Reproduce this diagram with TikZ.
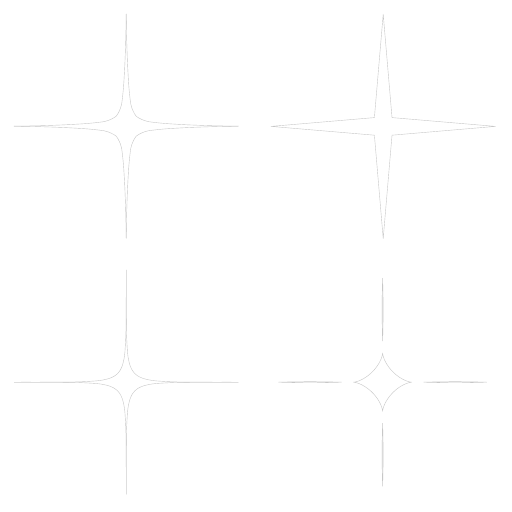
\documentclass[tikz,border=0pt]{standalone}
\begin{document}
\begin{tikzpicture}[x=0.5pt,y=-0.5pt]
\tikzset{
  starline/.style={line width=0.2pt, draw=black!22, line join=round},
}
\useasboundingbox (0,0) rectangle (512,512);
\fill[white] (0,0) rectangle (512,512);

% top-left: pinched star (hyperbola-like arms)
\foreach \sx/\sy in {1/1,1/-1,-1/1,-1/-1}{
  \begin{scope}[shift={(126.2,126.2)}, xscale=\sx, yscale=\sy]
    \draw[starline] plot[smooth, tension=0.45] coordinates {
      (112.2,0) (89,0.4) (63,1.3) (39,2.7) (22,4.6) (15,7) (10,10)
      (7,15) (4.6,22) (2.7,39) (1.3,63) (0.4,89) (0,112.2)};
  \end{scope}
}

% top-right: straight four-pointed star
\begin{scope}[shift={(383.2,126.4)}]
  \draw[starline] (0,-112.2) -- (8.8,-8.8) -- (112.2,0) -- (8.8,8.8)
    -- (0,112.2) -- (-8.8,8.8) -- (-112.2,0) -- (-8.8,-8.8) -- cycle;
\end{scope}

% bottom-left: superellipse star
\foreach \sx/\sy in {1/1,1/-1,-1/1,-1/-1}{
  \begin{scope}[shift={(126.2,382.2)}, xscale=\sx, yscale=\sy]
    \draw[starline] plot[smooth, tension=0.45] coordinates {
      (112.2,0) (76,0.022) (49.1,0.29) (30,1.3) (22.8,2.31) (16.9,3.78)
      (12.29,5.85) (8.63,8.63) (5.85,12.29) (3.78,16.9) (2.31,22.8)
      (1.3,30) (0.29,49.1) (0.022,76) (0,112.2)};
  \end{scope}
}

% bottom-right: small astroid with four detached thin arms
\begin{scope}[shift={(382.6,382.2)}]
  \draw[starline] plot[domain=0:360, samples=240, smooth]
    ({29.2*cos(\x)*cos(\x)*cos(\x)}, {29.2*sin(\x)*sin(\x)*sin(\x)}) -- cycle;
  \foreach \a in {0,90,180,270}{
    \draw[starline, rotate=\a] (41,0) .. controls (62,0.7) and (83,0.7) .. (104,0)
      .. controls (83,-0.7) and (62,-0.7) .. (41,0);
  }
\end{scope}
\end{tikzpicture}
\end{document}
